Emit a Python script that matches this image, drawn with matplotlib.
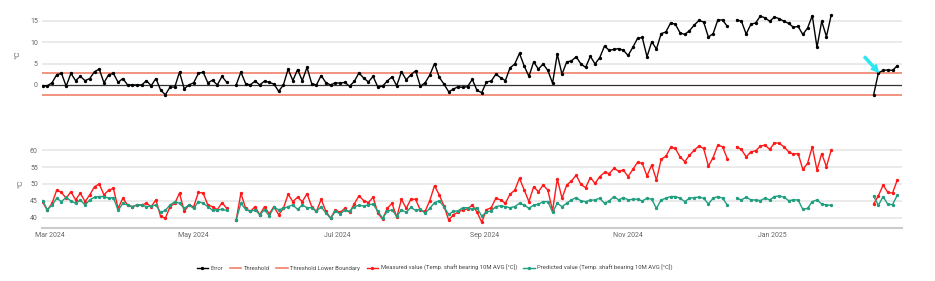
import numpy as np
import pandas as pd
import matplotlib
matplotlib.use('Agg')
import matplotlib.pyplot as plt
import matplotlib.dates as mdates

nan = np.nan
start_date = '2024-02-27'
measured = [44.8, 42.2, 44.3, 48.2, 47.5, 45.8, 47.7, 45.3, 47.3, 44.8,
            46.8, 49.2, 50.0, 46.8, 48.2, 48.7, 42.8, 45.8, 43.8, 43.3,
            43.8, 43.8, 44.3, 43.3, 45.3, 40.4, 39.9, 43.3, 44.3, 47.3,
            41.9, 43.8, 43.3, 47.5, 47.3, 43.8, 43.3, 42.4, 44.5, 42.8,
            nan, 39.4, 47.3, 42.8, 41.9, 43.3, 40.9, 43.3, 41.2, 43.3,
            40.9, 42.8, 47.0, 44.8, 46.1, 44.8, 47.1, 43.3, 41.9, 45.5,
            41.9, 39.9, 42.4, 41.6, 42.8, 41.6, 44.1, 46.5, 45.1, 44.5,
            46.1, 41.4, 39.6, 42.8, 44.3, 40.2, 45.5, 42.8, 45.5, 45.5,
            42.2, 41.9, 45.1, 49.5, 46.8, 43.5, 39.4, 40.9, 41.7, 42.4,
            42.6, 43.8, 41.7, 38.7, 42.4, 43.0, 45.8, 45.3, 44.3, 47.0,
            48.2, 51.7, 48.2, 44.8, 49.2, 47.7, 49.7, 48.2, 42.1, 51.5,
            45.8, 49.7, 50.9, 52.6, 49.9, 48.9, 51.9, 50.2, 52.2, 53.4,
            53.1, 54.6, 53.8, 54.1, 52.2, 54.3, 56.4, 56.1, 52.4, 55.6,
            51.2, 57.3, 58.2, 60.8, 60.5, 58.0, 56.6, 58.5, 60.0, 61.2,
            60.5, 55.3, 57.8, 61.5, 61.0, 57.5, nan, 61.0, 60.2, 58.0,
            59.5, 59.8, 61.2, 61.5, 60.2, 62.2, 62.0, 61.0, 59.5, 58.8,
            59.0, 54.3, 56.1, 61.0, 54.1, 59.0, 55.1, 60.0,
            nan, nan, nan, nan, nan, nan, nan, nan,
            44.1, 46.5, 49.7, 47.5, 47.3, 51.2]
predicted = [45.1, 42.4, 43.8, 45.8, 44.8, 46.1, 45.0, 44.3, 45.3, 43.8,
             45.3, 46.1, 46.3, 46.3, 45.8, 46.0, 42.2, 44.3, 43.8, 43.3,
             43.8, 43.8, 43.3, 43.5, 43.8, 41.6, 42.2, 43.8, 44.8, 44.3,
             42.8, 43.8, 42.8, 44.8, 44.3, 43.3, 42.2, 42.4, 42.5, 42.2,
             nan, 39.4, 44.3, 42.5, 41.9, 42.4, 40.9, 42.4, 40.6, 43.1,
             42.4, 42.8, 43.3, 43.8, 42.5, 43.8, 43.0, 43.0, 41.9, 43.3,
             41.4, 39.9, 41.9, 41.2, 42.2, 41.9, 43.3, 43.7, 43.5, 43.8,
             44.1, 41.9, 39.9, 41.9, 42.4, 40.4, 42.4, 41.6, 43.1, 42.2,
             42.5, 41.4, 42.8, 44.5, 45.0, 43.3, 41.0, 41.9, 42.1, 43.0,
             43.0, 42.5, 43.0, 40.5, 41.7, 42.1, 43.3, 43.6, 43.3, 43.0,
             43.3, 44.3, 43.8, 42.8, 43.8, 44.0, 44.8, 44.8, 41.7, 44.3,
             43.3, 44.3, 45.3, 46.0, 45.0, 44.8, 45.2, 45.3, 45.8, 44.3,
             45.0, 46.3, 45.3, 46.0, 45.3, 45.5, 45.5, 45.0, 45.8, 45.5,
             42.8, 45.3, 45.8, 46.3, 46.3, 45.8, 44.8, 45.8, 46.0, 46.1,
             45.8, 44.1, 45.8, 46.3, 45.8, 43.8, nan, 45.8, 45.3, 46.1,
             45.3, 45.3, 45.1, 45.8, 45.3, 46.3, 46.5, 46.1, 45.1, 45.3,
             45.3, 42.5, 42.8, 44.8, 45.3, 44.1, 43.8, 43.7,
             nan, nan, nan, nan, nan, nan, nan, nan,
             46.4, 43.7, 46.3, 44.0, 43.9, 46.7]
threshold = 2.9
threshold_lower = -2.3

dates = pd.date_range(start_date, periods=len(measured), freq='2D')
measured = np.array(measured)
predicted = np.array(predicted)
error = measured - predicted

grid_c = '#e6e6e6'
label_c = '#666666'
thr_c = '#f0806a'
red = '#ff1a1a'
teal = '#1f9e80'

plt.rcParams['font.family'] = ['Roboto', 'DejaVu Sans']

fig = plt.figure(figsize=(9.35, 2.81), dpi=100)
ax1 = fig.add_axes([0.0449, 0.637, 0.9198, 0.3345])
ax2 = fig.add_axes([0.0449, 0.1886, 0.9198, 0.3132])

xmin = pd.Timestamp('2024-02-26 18:00')
xmax = pd.Timestamp('2025-02-25')

# top: error with thresholds
for y in [5, 10, 15]:
    ax1.axhline(y, color=grid_c, lw=1.2, zorder=0)
ax1.axhline(0, color='#333333', lw=0.9, zorder=1)
ax1.axhline(threshold, color=thr_c, lw=1.2, zorder=2, label='Threshold')
ax1.axhline(threshold_lower, color=thr_c, lw=1.2, zorder=2, label='Threshold Lower Boundary')
ax1.plot(dates, error, color='black', lw=1.0, marker='o', ms=1.4, zorder=3, label='Error')
ax1.annotate('', xy=(dates[177], 3.0), xytext=(-10, 11), textcoords='offset points',
             arrowprops=dict(color='#2ee6f2', width=1.5, headwidth=5, headlength=5, shrink=0))
ax1.set_ylim(-4, 18)
ax1.set_yticks([0, 5, 10, 15])
ax1.set_xlim(xmin, xmax)
ax1.set_xticks([])
ax1.set_ylabel('°C', color=label_c, fontsize=6, labelpad=7)

# bottom: measured vs predicted
for y in [40, 45, 50, 55, 60]:
    ax2.axhline(y, color=grid_c, lw=1.2, zorder=0)
ax2.plot(dates, measured, color=red, lw=1.0, marker='o', ms=1.4, zorder=3,
         label='Measured value (Temp. shaft bearing 10M AVG [°C])')
ax2.plot(dates, predicted, color=teal, lw=1.0, marker='o', ms=1.4, zorder=4,
         label='Predicted value (Temp. shaft bearing 10M AVG [°C])')
ax2.set_ylim(37, 63)
ax2.set_yticks([40, 45, 50, 55, 60])
ax2.set_xlim(xmin, xmax)
ax2.xaxis.set_major_locator(mdates.MonthLocator(bymonth=[1, 3, 5, 7, 9, 11]))
ax2.xaxis.set_major_formatter(mdates.DateFormatter('%b %Y'))
ax2.set_ylabel('°C', color=label_c, fontsize=6, labelpad=5)

for ax in [ax1, ax2]:
    for s in ax.spines.values():
        s.set_visible(False)
    ax.tick_params(length=0, labelsize=5, labelcolor=label_c, pad=3)
ax2.spines['bottom'].set_visible(True)
ax2.spines['bottom'].set_color('#cccccc')
ax2.spines['bottom'].set_linewidth(1.5)

h1, l1 = ax1.get_legend_handles_labels()
h2, l2 = ax2.get_legend_handles_labels()
order = [2, 0, 1]
handles = [h1[i] for i in order] + h2
labels = [l1[i] for i in order] + l2
fig.legend(handles, labels, loc='center', bbox_to_anchor=(0.465, 0.046), ncol=5,
           frameon=False, fontsize=4.2, handlelength=2.0, columnspacing=1.1,
           handletextpad=0.4, labelcolor='#444444')

fig.savefig('out.png', dpi=100)
